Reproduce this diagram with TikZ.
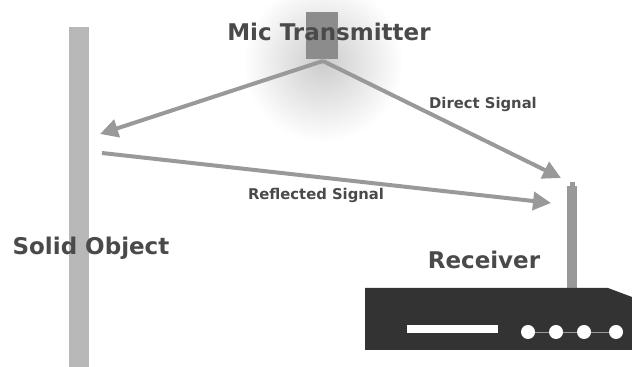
\documentclass[tikz,border=0pt]{standalone}
\usepackage{fontspec}
\setmainfont{DejaVu Sans}
\usepackage{tikz}
\usetikzlibrary{arrows.meta}
\usetikzlibrary{positioning}
\definecolor{sig}{HTML}{999999}
\definecolor{txt}{HTML}{4A4A4A}
\definecolor{box}{HTML}{333333}
\tikzset{signal/.style={draw=sig, line width=2pt, -{Triangle[length=9pt,width=9pt]}}}
\tikzset{biglabel/.style={text=txt, font=\fontsize{11.5}{13}\selectfont\bfseries, inner sep=0pt}}
\tikzset{smalllabel/.style={text=txt, font=\fontsize{7.4}{9}\selectfont\bfseries, inner sep=0pt}}

\begin{document}
\begin{tikzpicture}[x=0.5pt, y=-0.5pt]
\useasboundingbox (0,0) rectangle (632,367);
\begin{scope}
\clip (0,0) rectangle (632,367);
\shade[inner color=black!20, outer color=white] (323,62) circle (80);
\end{scope}
\fill[black!28!white] (69,27) rectangle (89,367);
\node[biglabel] (wall) at (91,248) {Solid Object};
\node[draw=none, fill=black!45, minimum width=16pt, minimum height=23.5pt, inner sep=0pt] (mic) at (322,35.5) {};
\node[biglabel] (miclabel) at (329,32) {Mic Transmitter};
\fill[sig] (567,186) rectangle (577,290);
\fill[sig] (570,182) rectangle (575,188);
\coordinate (antenna) at (572,183);
\node[biglabel] (rx) at (484,260) {Receiver};
\fill[box] (365,288) -- (608,288) -- (632,297) -- (632,350) -- (365,350) -- cycle;
\fill[white] (407,325) rectangle (498,333);
\foreach \x in {528,556,584} \draw[black!40] (\x,332) -- ++(28,0);
\foreach \x [count=\i] in {528,556,584,616} \fill[white] (\x,332) circle (7) coordinate (knob\i);
\coordinate (src) at (323,61);
\coordinate (hit) at (100,134);
\coordinate (bounce) at (102,153);
\draw[signal] (src) -- (hit);
\draw[signal] (src) -- (561,178) coordinate (direct);
\draw[signal] (bounce) -- (551,203) coordinate (reflected);
\node[smalllabel] (dlabel) at (483,104) {Direct Signal};
\node[smalllabel] (rlabel) at (316,195) {Reflected Signal};
\end{tikzpicture}
\end{document}
